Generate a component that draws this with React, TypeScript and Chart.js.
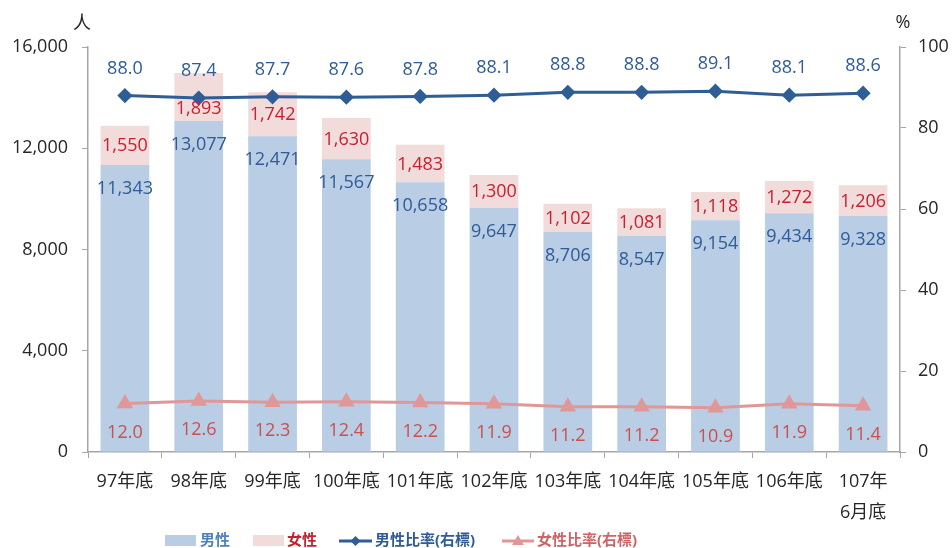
import React, { useEffect, useRef } from "react";
import { Chart, registerables } from "chart.js";

Chart.register(...registerables);

const categories: (string | string[])[] = [
  "97年底", "98年底", "99年底", "100年底", "101年底", "102年底",
  "103年底", "104年底", "105年底", "106年底", ["107年", "6月底"],
];
const maleCounts = [11343, 13077, 12471, 11567, 10658, 9647, 8706, 8547, 9154, 9434, 9328];
const femaleCounts = [1550, 1893, 1742, 1630, 1483, 1300, 1102, 1081, 1118, 1272, 1206];
const maleRatio = [88.0, 87.4, 87.7, 87.6, 87.8, 88.1, 88.8, 88.8, 89.1, 88.1, 88.6];
const femaleRatio = [12.0, 12.6, 12.3, 12.4, 12.2, 11.9, 11.2, 11.2, 10.9, 11.9, 11.4];
const leftTicks = [0, 4000, 8000, 12000, 16000];
const rightTicks = [0, 20, 40, 60, 80, 100];
const seriesNames = ["男性", "女性", "男性比率(右標)", "女性比率(右標)"];

const FONT = "'Open Sans', 'Noto Sans CJK TC', sans-serif";
const C = {
  maleBar: "#b9cde5",
  femaleBar: "#f2dcdb",
  maleLine: "#2f5e96",
  femaleLine: "#df9897",
  maleLbl: "#2f5b96",
  femaleLbl: "#c8202f",
  femaleRatioLbl: "#c9504f",
  axis: "#a6a6a6",
  tick: "#262626",
};

const labelPlugin = {
  id: "customLabels",
  afterDatasetsDraw(chart: any) {
    const ctx = chart.ctx;
    ctx.save();
    ctx.font = `18px ${FONT}`;
    ctx.textAlign = "center";
    ctx.textBaseline = "middle";
    const m0 = chart.getDatasetMeta(0);
    const m1 = chart.getDatasetMeta(1);
    const m2 = chart.getDatasetMeta(2);
    const m3 = chart.getDatasetMeta(3);
    m0.data.forEach((el: any, i: number) => {
      ctx.fillStyle = C.maleLbl;
      ctx.fillText(maleCounts[i].toLocaleString("en-US"), el.x, el.y + 24);
    });
    m1.data.forEach((el: any, i: number) => {
      ctx.fillStyle = C.femaleLbl;
      let y = (el.y + el.base) / 2 + 1;
      const lineY = m2.data[i] ? m2.data[i].y : -1000;
      if (Math.abs(y - lineY) < 12) y = lineY + 11;
      ctx.fillText(femaleCounts[i].toLocaleString("en-US"), el.x, y);
    });
    m2.data.forEach((el: any, i: number) => {
      ctx.fillStyle = C.maleLbl;
      ctx.fillText(maleRatio[i].toFixed(1), el.x, el.y - 27);
    });
    m3.data.forEach((el: any, i: number) => {
      ctx.fillStyle = C.femaleRatioLbl;
      ctx.fillText(femaleRatio[i].toFixed(1), el.x, el.y + 29);
    });
    // axis titles
    ctx.fillStyle = C.tick;
    ctx.fillText("人", 82, 24);
    ctx.fillText("%", 903, 23);

    // legend
    const ly = 541;
    ctx.font = `bold 15px ${FONT}`;
    ctx.textAlign = "left";
    ctx.fillStyle = C.maleBar;
    ctx.fillRect(165, ly - 6, 31, 11);
    ctx.fillStyle = "#4f81bd";
    ctx.fillText(seriesNames[0], 200, ly);
    ctx.fillStyle = C.femaleBar;
    ctx.fillRect(253, ly - 6, 31, 11);
    ctx.fillStyle = C.femaleLbl;
    ctx.fillText(seriesNames[1], 287, ly);
    ctx.strokeStyle = C.maleLine;
    ctx.lineWidth = 3;
    ctx.beginPath();
    ctx.moveTo(339, ly);
    ctx.lineTo(372, ly);
    ctx.stroke();
    ctx.fillStyle = C.maleLine;
    ctx.beginPath();
    ctx.moveTo(355.5, ly - 5);
    ctx.lineTo(360.5, ly);
    ctx.lineTo(355.5, ly + 5);
    ctx.lineTo(350.5, ly);
    ctx.closePath();
    ctx.fill();
    ctx.fillStyle = C.maleLbl;
    ctx.fillText(seriesNames[2], 375, ly);
    ctx.strokeStyle = C.femaleLine;
    ctx.beginPath();
    ctx.moveTo(502, ly);
    ctx.lineTo(534, ly);
    ctx.stroke();
    ctx.fillStyle = C.femaleLine;
    ctx.beginPath();
    ctx.moveTo(518, ly - 6);
    ctx.lineTo(524, ly + 4);
    ctx.lineTo(512, ly + 4);
    ctx.closePath();
    ctx.fill();
    ctx.fillStyle = "#d06464";
    ctx.fillText(seriesNames[3], 537, ly);
    ctx.restore();
  },
};

export default function App() {
  const ref = useRef<HTMLCanvasElement>(null);
  useEffect(() => {
    if (!ref.current) return;
    const chart = new Chart(ref.current, {
      type: "bar",
      data: {
        labels: categories as any,
        datasets: [
          {
            type: "bar",
            label: seriesNames[0],
            data: maleCounts,
            backgroundColor: C.maleBar,
            yAxisID: "y",
            stack: "s",
            order: 2,
            barPercentage: 0.66,
            categoryPercentage: 1,
          },
          {
            type: "bar",
            label: seriesNames[1],
            data: femaleCounts,
            backgroundColor: C.femaleBar,
            yAxisID: "y",
            stack: "s",
            order: 2,
            barPercentage: 0.66,
            categoryPercentage: 1,
          },
          {
            type: "line",
            label: seriesNames[2],
            data: maleRatio,
            borderColor: C.maleLine,
            backgroundColor: C.maleLine,
            borderWidth: 3,
            pointStyle: "rectRot",
            pointRadius: 5.5,
            yAxisID: "y2",
            order: 0,
            tension: 0,
          },
          {
            type: "line",
            label: seriesNames[3],
            data: femaleRatio,
            borderColor: C.femaleLine,
            backgroundColor: C.femaleLine,
            borderWidth: 3,
            pointStyle: "triangle",
            pointRadius: 6.5,
            yAxisID: "y2",
            order: 0,
            tension: 0,
          },
        ],
      } as any,
      options: {
        animation: false,
        responsive: false,
        maintainAspectRatio: false,
        layout: { padding: { top: 47, left: 0, right: 0, bottom: 0 } },
        plugins: { legend: { display: false }, tooltip: { enabled: false } },
        scales: {
          x: {
            stacked: true,
            offset: true,
            grid: { drawOnChartArea: false, drawTicks: true, tickLength: 6, color: C.axis, offset: true },
            border: { color: C.axis, width: 1.5 },
            ticks: {
              color: C.tick,
              font: { family: FONT, size: 18, lineHeight: 1.7 },
              padding: 9,
              maxRotation: 0,
              autoSkip: false,
            },
            afterFit: (s: any) => { s.height = 96; },
          },
          y: {
            stacked: true,
            position: "left",
            min: 0,
            max: 16000,
            afterBuildTicks: (s: any) => { s.ticks = leftTicks.map((v) => ({ value: v })); },
            grid: { drawOnChartArea: false, drawTicks: true, tickLength: 6, color: C.axis },
            border: { color: C.axis, width: 1.5 },
            ticks: {
              color: C.tick,
              font: { family: FONT, size: 18 },
              padding: 14,
              callback: (v: any) => Number(v).toLocaleString("en-US"),
            },
            afterFit: (s: any) => { s.width = 88; },
          },
          y2: {
            position: "right",
            min: 0,
            max: 100,
            afterBuildTicks: (s: any) => { s.ticks = rightTicks.map((v) => ({ value: v })); },
            grid: { drawOnChartArea: false, drawTicks: true, tickLength: 6, color: C.axis },
            border: { color: C.axis, width: 1.5 },
            ticks: {
              color: C.tick,
              font: { family: FONT, size: 18 },
              padding: 12,
            },
            afterFit: (s: any) => { s.width = 52; },
          },
        },
      } as any,
      plugins: [labelPlugin],
    });
    return () => chart.destroy();
  }, []);
  return (
    <div style={{ position: "fixed", left: 0, top: 0, width: 952, height: 548, background: "#fff" }}>
      <canvas ref={ref} width={952} height={548} style={{ width: 952, height: 548, display: "block" }} />
    </div>
  );
}
